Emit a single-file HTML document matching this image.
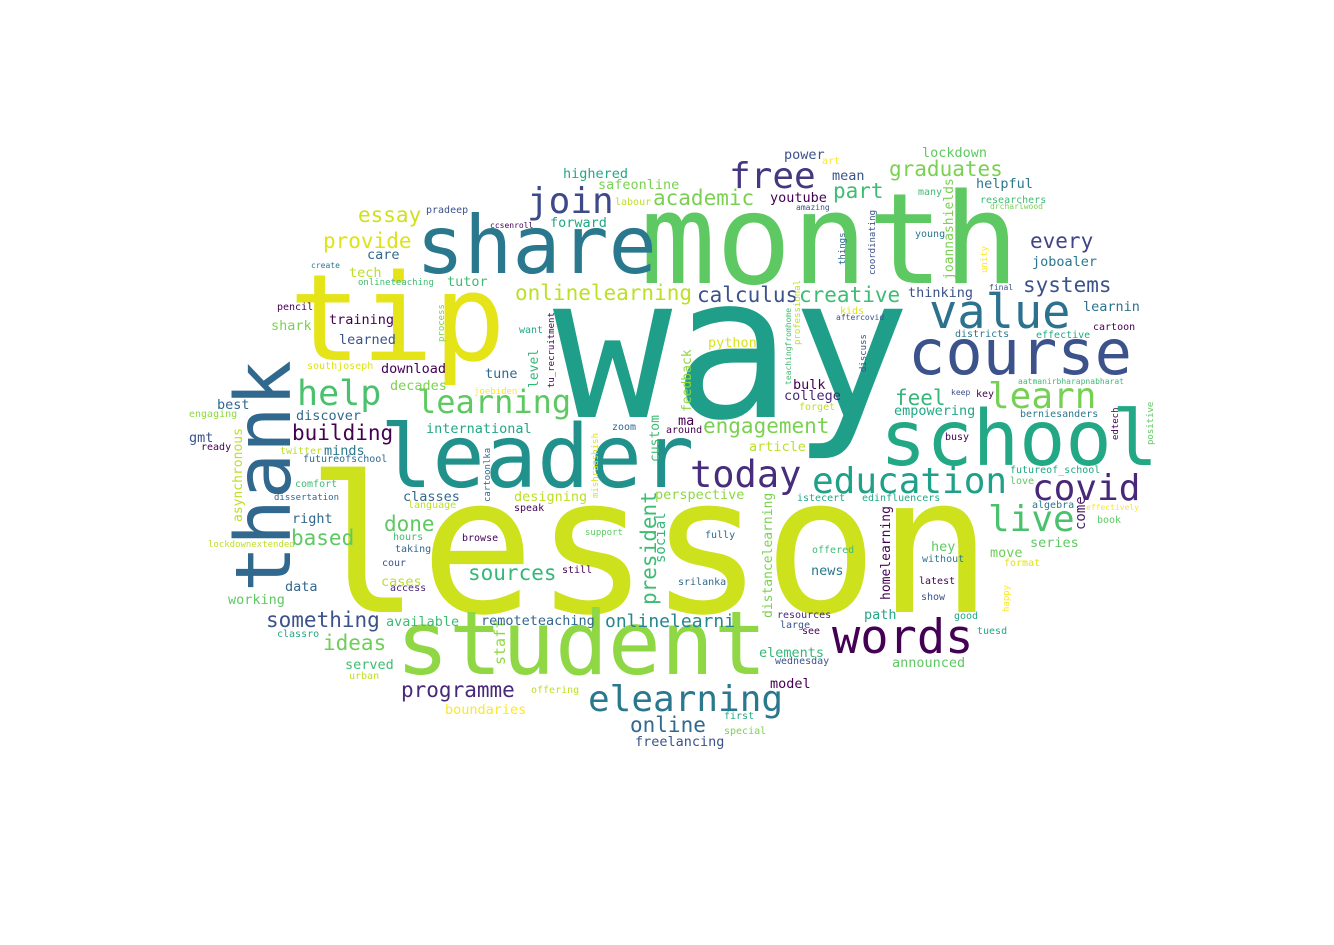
<!DOCTYPE html>
<html><head><meta charset="utf-8"><style>
html,body{margin:0;padding:0;background:#fff;width:1334px;height:945px;overflow:hidden}
svg text{font-family:"DejaVu Sans Mono","Liberation Mono",monospace}
</style></head><body>
<svg width="1334" height="945" viewBox="0 0 1334 945">
<rect width="1334" height="945" fill="#fff"/>
<text x="306" y="612" font-size="190" fill="#cde11d">lesson</text>
<text x="553" y="417" font-size="198" fill="#1f9e89">way</text>
<text x="640" y="283" font-size="126" fill="#5ec962">month</text>
<text x="289" y="360" font-size="120" fill="#e5e419">tip</text>
<text x="416" y="273" font-size="80" fill="#2a788e">share</text>
<text x="380" y="487" font-size="87" fill="#21918c">leader</text>
<text transform="translate(290,592) rotate(-90)" font-size="77" fill="#31688e">thank</text>
<text x="880" y="465" font-size="77" fill="#22a884">school</text>
<text x="908" y="374" font-size="62" fill="#3b528b">course</text>
<text x="396" y="674" font-size="88" fill="#8fd744">student</text>
<text x="832" y="653" font-size="47" fill="#440154">words</text>
<text x="588" y="711" font-size="36" fill="#2a788e">elearning</text>
<text x="929" y="328" font-size="47" fill="#2c728e">value</text>
<text x="812" y="493" font-size="36" fill="#1fa088">education</text>
<text x="1032" y="500" font-size="36" fill="#482878">covid</text>
<text x="988" y="531" font-size="36" fill="#4ac16d">live</text>
<text x="988" y="408" font-size="36" fill="#75d054">learn</text>
<text x="690" y="487" font-size="37" fill="#472d7b">today</text>
<text x="297" y="405" font-size="35" fill="#4ac16d">help</text>
<text x="417" y="413" font-size="32" fill="#5ec962">learning</text>
<text x="729" y="188" font-size="36" fill="#453781">free</text>
<text x="527" y="213" font-size="36" fill="#3e4989">join</text>
<text x="653" y="205" font-size="21" fill="#7ad151">academic</text>
<text x="889" y="176" font-size="21" fill="#7ad151">graduates</text>
<text x="833" y="198" font-size="21" fill="#3fbc73">part</text>
<text x="358" y="222" font-size="21" fill="#d0e11c">essay</text>
<text x="323" y="248" font-size="21" fill="#dde318">provide</text>
<text x="515" y="300" font-size="21" fill="#bddf26">onlinelearning</text>
<text x="697" y="302" font-size="21" fill="#3b528b">calculus</text>
<text x="799" y="302" font-size="21" fill="#3fbc73">creative</text>
<text x="1023" y="292" font-size="21" fill="#3b528b">systems</text>
<text x="1030" y="248" font-size="21" fill="#414487">every</text>
<text x="895" y="405" font-size="21" fill="#35b779">feel</text>
<text x="703" y="433" font-size="21" fill="#7ad151">engagement</text>
<text x="292" y="440" font-size="21" fill="#440154">building</text>
<text x="384" y="531" font-size="21" fill="#5ec962">done</text>
<text x="291" y="545" font-size="21" fill="#5ec962">based</text>
<text x="468" y="580" font-size="21" fill="#35b779">sources</text>
<text x="266" y="627" font-size="21" fill="#3b528b">something</text>
<text x="323" y="650" font-size="21" fill="#6ece58">ideas</text>
<text x="401" y="697" font-size="21" fill="#482878">programme</text>
<text x="630" y="732" font-size="21" fill="#31688e">online</text>
<text x="605" y="627" font-size="18" fill="#24868e">onlinelearni</text>
<text transform="translate(656,605) rotate(-90)" font-size="21" fill="#3fbc73">president</text>
<text transform="translate(242,522) rotate(-90)" font-size="13" fill="#bddf26">asynchronous</text>
<text transform="translate(953,280) rotate(-90)" font-size="13" fill="#7ad151">joannashields</text>
<text transform="translate(772,618) rotate(-90)" font-size="13" fill="#7ad151">distancelearning</text>
<text transform="translate(890,600) rotate(-90)" font-size="13" fill="#440154">homelearning</text>
<text transform="translate(505,665) rotate(-90)" font-size="15" fill="#8fd744">staff</text>
<text transform="translate(665,563) rotate(-90)" font-size="14" fill="#35b779">social</text>
<text transform="translate(1085,530) rotate(-90)" font-size="14" fill="#481a6c">come</text>
<text transform="translate(691,412) rotate(-90)" font-size="13" fill="#8fd744">feedback</text>
<text transform="translate(538,388) rotate(-90)" font-size="13" fill="#35b779">level</text>
<text transform="translate(659,462) rotate(-90)" font-size="13" fill="#3fbc73">custom</text>
<text transform="translate(800,345) rotate(-90)" font-size="9" fill="#bddf26">professional</text>
<text transform="translate(791,385) rotate(-90)" font-size="8" fill="#3fbc73">teachingfromhome</text>
<text transform="translate(845,265) rotate(-90)" font-size="9" fill="#31688e">things</text>
<text transform="translate(875,275) rotate(-90)" font-size="9" fill="#3b528b">coordinating</text>
<text transform="translate(866,372) rotate(-90)" font-size="9" fill="#3b528b">discuss</text>
<text transform="translate(444,342) rotate(-90)" font-size="9" fill="#7ad151">process</text>
<text transform="translate(554,388) rotate(-90)" font-size="9" fill="#440154">tu_recruitment</text>
<text transform="translate(490,502) rotate(-90)" font-size="9" fill="#31688e">cartoonlka</text>
<text transform="translate(598,498) rotate(-90)" font-size="9" fill="#dde318">mishraashish</text>
<text transform="translate(1153,445) rotate(-90)" font-size="9" fill="#5ec962">positive</text>
<text transform="translate(1118,440) rotate(-90)" font-size="9" fill="#440154">edtech</text>
<text transform="translate(1009,612) rotate(-90)" font-size="9" fill="#fde725">happy</text>
<text transform="translate(987,273) rotate(-90)" font-size="9" fill="#fde725">unity</text>
<g font-size="13.5">
<text x="922" y="157" fill="#5ec962">lockdown</text>
<text x="784" y="159" fill="#3b528b">power</text>
<text x="832" y="180" fill="#3b528b">mean</text>
<text x="563" y="178" fill="#22a884">highered</text>
<text x="598" y="189" fill="#7ad151">safeonline</text>
<text x="770" y="202" fill="#440154">youtube</text>
<text x="550" y="227" fill="#22a884">forward</text>
<text x="976" y="188" fill="#2a788e">helpful</text>
<text x="367" y="259" fill="#31688e">care</text>
<text x="349" y="277" fill="#bddf26">tech</text>
<text x="447" y="286" fill="#3fbc73">tutor</text>
<text x="1032" y="266" fill="#2a788e">joboaler</text>
<text x="908" y="297" fill="#3b528b">thinking</text>
<text x="1083" y="311" fill="#2c728e">learnin</text>
<text x="329" y="324" fill="#440154">training</text>
<text x="271" y="330" fill="#7ad151">shark</text>
<text x="339" y="344" fill="#3b528b">learned</text>
<text x="708" y="347" fill="#dde318">python</text>
<text x="381" y="373" fill="#440154">download</text>
<text x="485" y="378" fill="#31688e">tune</text>
<text x="390" y="390" fill="#7ad151">decades</text>
<text x="793" y="389" fill="#440154">bulk</text>
<text x="784" y="400" fill="#482878">college</text>
<text x="217" y="409" fill="#31688e">best</text>
<text x="296" y="420" fill="#31688e">discover</text>
<text x="894" y="415" fill="#22a884">empowering</text>
<text x="426" y="433" fill="#22a884">international</text>
<text x="678" y="425" fill="#440154">ma</text>
<text x="189" y="442" fill="#3b528b">gmt</text>
<text x="324" y="455" fill="#2a788e">minds</text>
<text x="403" y="501" fill="#31688e">classes</text>
<text x="514" y="501" fill="#bddf26">designing</text>
<text x="655" y="499" fill="#8fd744">perspective</text>
<text x="292" y="523" fill="#31688e">right</text>
<text x="381" y="586" fill="#bddf26">cases</text>
<text x="931" y="551" fill="#5ec962">hey</text>
<text x="1030" y="547" fill="#5ec962">series</text>
<text x="990" y="557" fill="#6ece58">move</text>
<text x="811" y="575" fill="#2a788e">news</text>
<text x="285" y="591" fill="#31688e">data</text>
<text x="228" y="604" fill="#5ec962">working</text>
<text x="386" y="626" fill="#3fbc73">available</text>
<text x="481" y="625" fill="#31688e">remoteteaching</text>
<text x="864" y="619" fill="#22a884">path</text>
<text x="345" y="669" fill="#3fbc73">served</text>
<text x="892" y="667" fill="#5ec962">announced</text>
<text x="759" y="657" fill="#35b779">elements</text>
<text x="770" y="688" fill="#440154">model</text>
<text x="445" y="714" fill="#fde725">boundaries</text>
<text x="635" y="746" fill="#3b528b">freelancing</text>
<text x="749" y="451" fill="#bddf26">article</text>
</g>
<g font-size="10">
<text x="426" y="213" fill="#3b528b">pradeep</text>
<text x="490" y="228" fill="#440154" font-size="8">ccsenroll</text>
<text x="615" y="205" fill="#bddf26">labour</text>
<text x="796" y="210" fill="#3b528b" font-size="8">amazing</text>
<text x="990" y="209" fill="#7ad151" font-size="8">drcharlwood</text>
<text x="311" y="268" fill="#2a788e" font-size="8">create</text>
<text x="358" y="285" fill="#3fbc73" font-size="9">onlineteaching</text>
<text x="277" y="310" fill="#440154">pencil</text>
<text x="519" y="333" fill="#22a884">want</text>
<text x="307" y="369" fill="#dde318">southjoseph</text>
<text x="474" y="394" fill="#fde725" font-size="9">joebiden</text>
<text x="189" y="417" fill="#8fd744">engaging</text>
<text x="201" y="450" fill="#440154">ready</text>
<text x="280" y="454" fill="#bddf26">twitter</text>
<text x="303" y="462" fill="#31688e">futureofschool</text>
<text x="295" y="487" fill="#3fbc73">comfort</text>
<text x="274" y="500" fill="#31688e" font-size="9">dissertation</text>
<text x="408" y="508" fill="#bddf26">language</text>
<text x="514" y="511" fill="#440154">speak</text>
<text x="208" y="547" fill="#bddf26" font-size="9">lockdownextended</text>
<text x="393" y="540" fill="#3fbc73">hours</text>
<text x="462" y="541" fill="#440154">browse</text>
<text x="395" y="552" fill="#31688e">taking</text>
<text x="585" y="535" fill="#5ec962" font-size="9">support</text>
<text x="705" y="538" fill="#31688e">fully</text>
<text x="382" y="566" fill="#3b528b">cour</text>
<text x="562" y="573" fill="#440154">still</text>
<text x="390" y="591" fill="#482878">access</text>
<text x="678" y="585" fill="#31688e">srilanka</text>
<text x="277" y="637" fill="#22a884">classro</text>
<text x="777" y="618" fill="#482878">resources</text>
<text x="780" y="628" fill="#3b528b">large</text>
<text x="802" y="634" fill="#440154">see</text>
<text x="775" y="664" fill="#3b528b">wednesday</text>
<text x="812" y="553" fill="#3fbc73">offered</text>
<text x="919" y="584" fill="#440154">latest</text>
<text x="921" y="600" fill="#3b528b">show</text>
<text x="922" y="562" fill="#2a788e">without</text>
<text x="954" y="619" fill="#22a884">good</text>
<text x="977" y="634" fill="#22a884">tuesd</text>
<text x="1004" y="566" fill="#dde318">format</text>
<text x="349" y="679" fill="#bddf26">urban</text>
<text x="531" y="693" fill="#bddf26">offering</text>
<text x="724" y="719" fill="#22a884">first</text>
<text x="724" y="734" fill="#7ad151">special</text>
<text x="797" y="501" fill="#22a884">istecert</text>
<text x="862" y="501" fill="#22a884">edinfluencers</text>
<text x="1010" y="473" fill="#22a884">futureof_school</text>
<text x="1010" y="484" fill="#5ec962">love</text>
<text x="1032" y="508" fill="#2a788e">algebra</text>
<text x="1086" y="510" fill="#fde725" font-size="8">effectively</text>
<text x="1097" y="523" fill="#5ec962">book</text>
<text x="945" y="440" fill="#440154">busy</text>
<text x="976" y="397" fill="#440154">key</text>
<text x="951" y="395" fill="#3b528b" font-size="8">keep</text>
<text x="1018" y="384" fill="#3fbc73" font-size="8">aatmanirbharapnabharat</text>
<text x="1020" y="417" fill="#2a788e">berniesanders</text>
<text x="1093" y="330" fill="#440154">cartoon</text>
<text x="1036" y="338" fill="#22a884">effective</text>
<text x="955" y="337" fill="#2a788e">districts</text>
<text x="989" y="290" fill="#3b528b" font-size="8">final</text>
<text x="840" y="314" fill="#dde318">kids</text>
<text x="836" y="320" fill="#3b528b" font-size="8">aftercovid</text>
<text x="799" y="410" fill="#bddf26">forget</text>
<text x="915" y="237" fill="#2a788e">young</text>
<text x="918" y="195" fill="#3fbc73">many</text>
<text x="980" y="203" fill="#3fbc73">researchers</text>
<text x="666" y="433" fill="#440154">around</text>
<text x="612" y="430" fill="#31688e">zoom</text>
<text x="822" y="164" fill="#fde725">art</text>
</g>
</svg>
</body></html>
